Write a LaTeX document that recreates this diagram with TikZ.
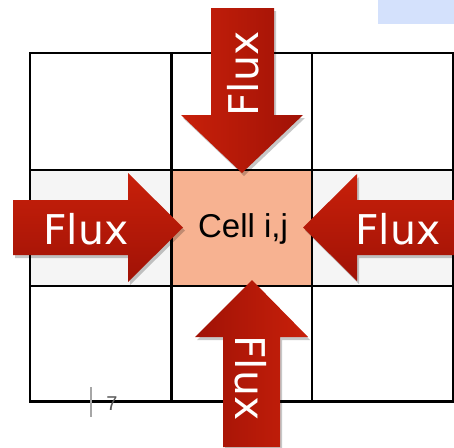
\documentclass[tikz,border=0pt]{standalone}
\usepackage{fontspec}
\setmainfont{Liberation Sans}
\newfontfamily\fluxfont{DejaVu Sans}
\definecolor{fluxlight}{HTML}{C8200A}
\definecolor{fluxdark}{HTML}{A01206}
\definecolor{cellfill}{HTML}{F7B291}
\definecolor{sidefill}{HTML}{F5F5F5}
\definecolor{tabblue}{HTML}{D4E1FC}
\tikzset{
  gridline/.style={line width=2.5pt, black},
  fluxshadow/.style={fill=black, opacity=0.22},
  fluxlabel/.style={text=white, font=\fluxfont\fontsize{41}{41}\selectfont, inner sep=0pt},
}
\begin{document}
\begin{tikzpicture}[x=1pt,y=-1pt]
\useasboundingbox (0,0) rectangle (454,447);

% tab in the corner
\fill[tabblue] (378,0) rectangle (454,24);

% cell fills
\fill[sidefill] (30,170) rectangle (171.5,286);
\fill[sidefill] (312,170) rectangle (453,286);
\fill[cellfill] (171.5,170) rectangle (312,286);

% 3x3 grid
\draw[gridline] (30,53) rectangle (453,401.5);
\draw[gridline] (171.5,53) -- (171.5,401.5) (312,53) -- (312,401.5)
                (30,170) -- (453,170) (30,286) -- (453,286);

\node[inner sep=0pt] (cell) at (243,229) {\fontsize{33}{36}\selectfont Cell i,j};

% flux arrows: north (pointing down)
\fill[fluxshadow, shift={(2,3)}] (211,8) -- (274,8) -- (274,115) -- (303,115) -- (242,173) -- (181,115) -- (211,115) -- cycle;
\shade[left color=fluxlight, right color=fluxdark] (211,8) -- (274,8) -- (274,115) -- (303,115) -- (242,173) -- (181,115) -- (211,115) -- cycle;

% south (pointing up)
\fill[fluxshadow, shift={(2,3)}] (223,447) -- (223,337) -- (195,337) -- (252,280) -- (308,337) -- (280,337) -- (280,447) -- cycle;
\shade[left color=fluxdark, right color=fluxlight] (223,447) -- (223,337) -- (195,337) -- (252,280) -- (308,337) -- (280,337) -- (280,447) -- cycle;

% west (pointing right)
\fill[fluxshadow, shift={(2,3)}] (13,200) -- (128,200) -- (128,173) -- (183,227.5) -- (128,282) -- (128,255) -- (13,255) -- cycle;
\shade[top color=fluxlight, bottom color=fluxdark] (13,200) -- (128,200) -- (128,173) -- (183,227.5) -- (128,282) -- (128,255) -- (13,255) -- cycle;

% east (pointing left)
\fill[fluxshadow, shift={(2,3)}] (454,200) -- (357,200) -- (357,174) -- (303,227.5) -- (357,281) -- (357,255) -- (454,255) -- cycle;
\shade[top color=fluxlight, bottom color=fluxdark] (454,200) -- (357,200) -- (357,174) -- (303,227.5) -- (357,281) -- (357,255) -- (454,255) -- cycle;

% arrow labels
\node[fluxlabel, rotate=90] (fluxN) at (243,74) {Flux};
\node[fluxlabel, rotate=-90] (fluxS) at (251,378) {Flux};
\node[fluxlabel] (fluxW) at (86,229) {Flux};
\node[fluxlabel] (fluxE) at (398,229) {Flux};

% page number mark
\draw[gray!70, line width=1.5pt] (91,387) -- (91,417);
\node[text=black!65, inner sep=0pt] (pagenum) at (112,404) {\fontsize{20}{24}\selectfont 7};
\end{tikzpicture}
\end{document}
